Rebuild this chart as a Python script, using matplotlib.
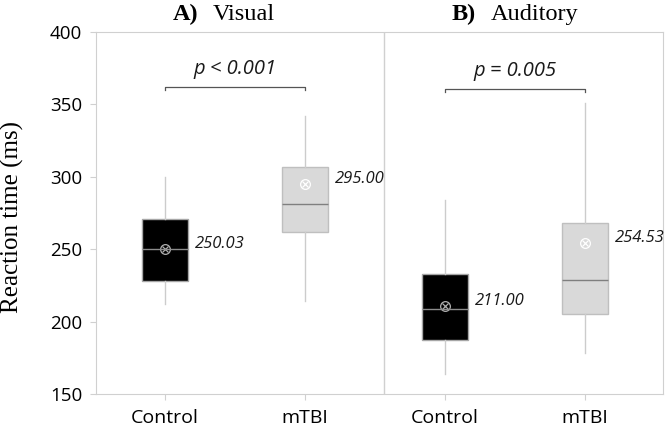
import matplotlib.pyplot as plt

# box statistics (ms)
labels = ['Control', 'mTBI', 'Control', 'mTBI']
whislo = [212, 214, 164, 178]
q1 = [228, 262, 187, 205]
med = [250, 281, 209, 229]
q3 = [271, 307, 233, 268]
whishi = [300, 342, 284, 351]
means = [250.03, 295.00, 211.00, 254.53]
titles = [('A)', 'Visual'), ('B)', 'Auditory')]
pvals = ['p < 0.001', 'p = 0.005']
bracket_y = [362, 360.5]

pos = [1, 2, 3, 4]
fills = ['black', '#d9d9d9', 'black', '#d9d9d9']
edges = ['#a6a6a6', '#bfbfbf', '#a6a6a6', '#bfbfbf']
meds = ['#8c8c8c', '#7f7f7f', '#8c8c8c', '#7f7f7f']
mean_col = ['#b0b0b0', 'white', '#b0b0b0', 'white']

W, H = 666, 426
fig = plt.figure(figsize=(W / 100, H / 100), dpi=100)
ax = fig.add_axes([96/W, 1 - 394/H, (663-96)/W, (394-32)/H])

stats = []
for i in range(4):
    stats.append(dict(whislo=whislo[i], q1=q1[i], med=med[i], q3=q3[i],
                      whishi=whishi[i], fliers=[], label=labels[i]))
bp = ax.bxp(stats, positions=pos, widths=0.33, patch_artist=True,
            showcaps=False, showfliers=False,
            whiskerprops=dict(color='#cccccc', lw=1))
for i, b in enumerate(bp['boxes']):
    b.set_facecolor(fills[i])
    b.set_edgecolor(edges[i])
    b.set_linewidth(1)
for i, m in enumerate(bp['medians']):
    m.set_color(meds[i])
    m.set_linewidth(1)

for i in range(4):
    ax.plot(pos[i], means[i], marker='o', ms=7, mfc='none', mec=mean_col[i], mew=0.9)
    ax.plot(pos[i], means[i], marker='x', ms=4.5, mec=mean_col[i], mew=0.9)
    ax.text(pos[i] + 0.215, means[i] + 3.5, '%.2f' % means[i], fontsize=12,
            style='italic', family='Open Sans', va='center', ha='left', color='#1a1a1a')

for k in range(2):
    x0, x1 = pos[2*k], pos[2*k+1]
    y = bracket_y[k]
    ax.plot([x0, x0, x1, x1], [y - 2, y, y, y - 2], color='#555555', lw=0.9)
    ax.text((x0 + x1) / 2, y + 5.5, pvals[k], fontsize=14.5, style='italic',
            family='Open Sans', ha='center', va='bottom', color='#1a1a1a')

ax.axvline(2.57, color='#d0d0d0', lw=1)
ax.set_xlim(0.51, 4.56)
ax.set_ylim(150, 400)
ax.set_yticks([150, 200, 250, 300, 350, 400])
ax.set_xticks(pos)
ax.set_xticklabels(labels)
for s in ax.spines.values():
    s.set_color('#d0d0d0')
ax.tick_params(colors='#d0d0d0', labelcolor='black', length=4)
ax.tick_params(axis='y', labelsize=13.5, pad=6)
ax.tick_params(axis='x', labelsize=14, pad=7)
for t in ax.get_xticklabels() + ax.get_yticklabels():
    t.set_family('Open Sans')

ax.set_ylabel('Reaction time (ms)', family='Liberation Serif', fontsize=18)
ax.yaxis.label.set_verticalalignment('center')
ax.yaxis.set_label_coords(-0.147, 0.49)

# panel titles, left edges in pixels
title_x = [(173, 213), (452, 491)]
for k in range(2):
    fig.text(title_x[k][0] / W, 1 - 20 / H, titles[k][0], family='Liberation Serif',
             fontsize=17.5, weight='bold', ha='left', va='baseline')
    fig.text(title_x[k][1] / W, 1 - 20 / H, titles[k][1], family='Liberation Serif',
             fontsize=17.5, ha='left', va='baseline')

fig.savefig('out.png', dpi=100)
